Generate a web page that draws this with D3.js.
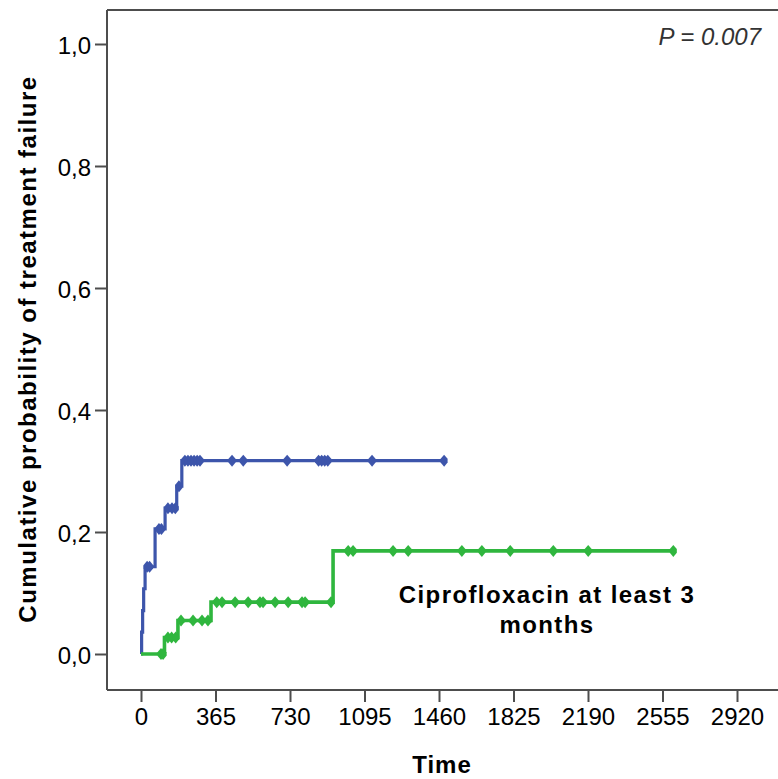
<!DOCTYPE html>
<html>
<head>
<meta charset="utf-8">
<script src="https://cdn.jsdelivr.net/npm/d3@7"></script>
<style>
  html, body { margin: 0; padding: 0; background: #fff; }
  svg { display: block; }
  text { font-family: "Liberation Sans", Arial, sans-serif; }
</style>
</head>
<body>
<svg id="chart" width="778" height="779"></svg>
<script>
// Kaplan–Meier cumulative failure curves (time in days)
const xTicks = [0, 365, 730, 1095, 1460, 1825, 2190, 2555, 2920];
const yTicks = [0, 0.2, 0.4, 0.6, 0.8, 1.0];

// Comparison group (blue)
const blueTimes  = [0, 3, 8, 13, 20, 69, 118, 175, 200];
const blueValues = [0, 0.036, 0.071, 0.107, 0.143, 0.205, 0.239, 0.275, 0.317];
const blueEnd = 1485;
const blueCensored = [30, 42, 88, 100, 132, 152, 168, 186, 215, 230, 245, 260, 275, 289,
                      446, 501, 716, 870, 885, 900, 915, 1132, 1485];

// Ciprofloxacin at least 3 months (green)
const greenTimes  = [0, 115, 181, 343, 941];
const greenValues = [0, 0.027, 0.055, 0.085, 0.169];
const greenEnd = 2608;
const greenCensored = [98, 108, 132, 150, 170, 196, 255, 299, 328, 371, 397, 461, 525, 583,
                       598, 657, 721, 789, 804, 931, 1015, 1039, 1235, 1309, 1572, 1670,
                       1809, 2020, 2191, 2608];

const groupLabel = ["Ciprofloxacin at least 3", "months"];
const pLabel = "P = 0.007";

const svg = d3.select("#chart");

const frame = { left: 107, top: 10, right: 800, bottom: 690 };
const x = d3.scaleLinear().domain([0, 2920]).range([141, 737]);
const y = d3.scaleLinear().domain([0, 1]).range([654, 44]);
const axisColor = "#4d4d4d";

// top frame line (left and bottom come from the axis domain lines)
svg.append("line")
  .attr("x1", frame.left).attr("x2", frame.right)
  .attr("y1", frame.top).attr("y2", frame.top)
  .attr("stroke", axisColor).attr("stroke-width", 2);

// Y axis
const yAxis = d3.axisLeft(y).tickValues(yTicks).tickSize(12).tickPadding(4)
  .tickFormat(d => d3.format(".1f")(d).replace(".", ","));
const yg = svg.append("g").attr("transform", `translate(${frame.left},0)`).call(yAxis);
yg.select(".domain").attr("d", `M0,${frame.top}V${frame.bottom}`)
  .attr("stroke", axisColor).attr("stroke-width", 2);
yg.selectAll(".tick line").attr("stroke", axisColor).attr("stroke-width", 2);
yg.selectAll(".tick text").attr("font-size", 24).attr("fill", "#000")
  .attr("font-family", "'Liberation Sans', Arial, sans-serif").attr("dy", "0.38em");

// X axis
const xAxis = d3.axisBottom(x).tickValues(xTicks).tickSize(12).tickPadding(6)
  .tickFormat(d3.format("d"));
const xg = svg.append("g").attr("transform", `translate(0,${frame.bottom})`).call(xAxis);
xg.select(".domain").attr("d", `M${frame.left},0H${frame.right}`)
  .attr("stroke", axisColor).attr("stroke-width", 2);
xg.selectAll(".tick line").attr("stroke", axisColor).attr("stroke-width", 2);
xg.selectAll(".tick text").attr("font-size", 24).attr("fill", "#000")
  .attr("font-family", "'Liberation Sans', Arial, sans-serif");

// Axis titles
svg.append("text")
  .attr("x", 442).attr("y", 773)
  .attr("text-anchor", "middle")
  .attr("font-size", 24).attr("font-weight", "bold")
  .attr("letter-spacing", 1)
  .text("Time");

svg.append("text")
  .attr("transform", "translate(36,349) rotate(-90)")
  .attr("text-anchor", "middle")
  .attr("font-size", 24).attr("font-weight", "bold")
  .attr("letter-spacing", 1.5)
  .text("Cumulative probability of treatment failure");

// Step curves and censor marks
function stepAt(times, values, t) {
  let v = values[0];
  for (let i = 0; i < times.length; i++) if (times[i] <= t) v = values[i];
  return v;
}

const stepLine = d3.line().x(d => x(d[0])).y(d => y(d[1])).curve(d3.curveStepAfter);

const groups = [
  { times: blueTimes, values: blueValues, end: blueEnd, censored: blueCensored, color: "#3d55ab", width: 3.2 },
  { times: greenTimes, values: greenValues, end: greenEnd, censored: greenCensored, color: "#2fb63e", width: 3.6 }
];

// censor tick: a small vertical diamond
const mark = "M0,-6L3.5,-1.8L3.5,1.8L0,6L-3.5,1.8L-3.5,-1.8Z";

groups.forEach(g => {
  const pts = g.times.map((t, i) => [t, g.values[i]]);
  pts.push([g.end, g.values[g.values.length - 1]]);
  svg.append("path")
    .datum(pts)
    .attr("d", stepLine)
    .attr("fill", "none")
    .attr("stroke", g.color)
    .attr("stroke-width", g.width)
    .attr("stroke-linejoin", "miter");
  svg.append("g").selectAll("path")
    .data(g.censored)
    .join("path")
    .attr("d", mark)
    .attr("transform", t => `translate(${x(t)},${y(stepAt(g.times, g.values, t))})`)
    .attr("fill", g.color);
});

// Group annotation
const ann = svg.append("text")
  .attr("text-anchor", "middle")
  .attr("font-size", 24).attr("font-weight", "bold")
  .attr("letter-spacing", 1.4);
groupLabel.forEach((s, i) => {
  ann.append("tspan").attr("x", 547).attr("y", 603 + i * 30).text(s);
});

// Log-rank p value
svg.append("text")
  .attr("x", 761).attr("y", 45)
  .attr("text-anchor", "end")
  .attr("font-size", 24).attr("font-style", "italic")
  .attr("fill", "#333")
  .text(pLabel);
</script>
</body>
</html>
